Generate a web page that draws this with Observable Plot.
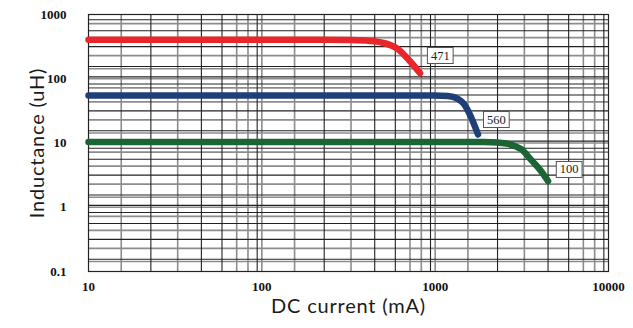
<!DOCTYPE html>
<html><head><meta charset="utf-8">
<script src="https://cdn.jsdelivr.net/npm/d3@7"></script>
<script src="https://cdn.jsdelivr.net/npm/@observablehq/plot@0.6"></script>
<style>
body{margin:0;background:#fff;}
#chart{width:633px;height:328px;overflow:hidden;}
</style></head><body><div id="chart"></div>
<script>
// Series: DC current (mA) vs inductance (uH)
const redCurrent    = [10, 200, 330, 420, 488, 608, 710, 818];
const redInductance = [405, 405, 400, 388, 368, 292, 192, 122];
const blueCurrent    = [10, 500, 990, 1184, 1352, 1476, 1578, 1687, 1766];
const blueInductance = [55, 55, 54.8, 54, 48.7, 39.7, 28.5, 18.7, 13.6];
const greenCurrent    = [10, 1000, 1900, 2300, 2640, 2900, 3140, 3590, 4100, 4480];
const greenInductance = [10.4, 10.4, 10.35, 10.15, 9.7, 8.9, 8.0, 5.4, 3.6, 2.55];

const labelNames = ["471", "560", "100"];
const labelX = [1070, 2254, 5930];
const labelY = [230, 23.2, 3.87];

const xTicks = [10, 100, 1000, 10000];
const yTicks = [0.1, 1, 10, 100, 1000];

// grid multipliers within a decade
const xGridBlackMult = [2.29, 4.48, 5.89, 9.4];
const xGridGrayMult  = [1.545, 3.27, 7.16, 8.32, 10];
const yGridBlackMult = [1.55, 3.16, 5.6, 8.3, 10.7];
const yGridGrayMult  = [1.43, 2.29, 4.37, 7.2, 10];
const xDecades = [10, 100, 1000];
const yDecades = [0.1, 1, 10, 100];

const colors = {red: "#e8262b", blue: "#1f3f78", green: "#1b6535"};

const mk = (xs, ys) => xs.map((x, i) => ({current: x, inductance: ys[i]}));
const red = mk(redCurrent, redInductance);
const blue = mk(blueCurrent, blueInductance);
const green = mk(greenCurrent, greenInductance);
const labels = labelNames.map((t, i) => ({text: t, x: labelX[i], y: labelY[i]}));

const expand = (decs, mults, lo, hi) => decs.flatMap(d => mults.map(m => +(d * m).toPrecision(6))).filter(v => v > lo && v < hi);
const xBlack = expand(xDecades, xGridBlackMult, 10, 10000);
const xGray = expand(xDecades, xGridGrayMult, 10, 10000);
const yBlack = expand(yDecades, yGridBlackMult, 0.1, 1000);
const yGray = expand(yDecades, yGridGrayMult, 0.1, 1000);

const lineOpts = c => ({x: "current", y: "inductance", stroke: c, strokeWidth: 6.5, strokeLinecap: "round", strokeLinejoin: "round", curve: "monotone-x"});

const plot = Plot.plot({
  width: 633, height: 328,
  marginLeft: 88, marginRight: 25, marginTop: 14, marginBottom: 57,
  style: {background: "#fff", fontFamily: "Liberation Serif", overflow: "visible"},
  x: {type: "log", domain: [10, 10000]},
  y: {type: "log", domain: [0.1, 1000]},
  marks: [
    Plot.ruleX(xGray, {stroke: "#8c8c8c", strokeWidth: 1.6}),
    Plot.ruleY(yGray, {stroke: "#8c8c8c", strokeWidth: 1.6}),
    Plot.ruleX(xBlack, {stroke: "#222", strokeWidth: 1.1}),
    Plot.ruleY(yBlack, {stroke: "#222", strokeWidth: 1.1}),
    Plot.frame({stroke: "#222", strokeWidth: 1.2}),
    Plot.line(red, lineOpts(colors.red)),
    Plot.line(blue, lineOpts(colors.blue)),
    Plot.line(green, lineOpts(colors.green)),
    Plot.text(labels, {x: "x", y: "y", text: "text", fontFamily: "Liberation Serif", fontSize: 12.5, fill: "#222", ariaLabel: "curve label"}),
    Plot.axisX(xTicks, {tickSize: 0, tickPadding: 10, tickFormat: d => String(d), fontSize: 13, fontWeight: "bold", fill: "#111", label: null}),
    Plot.axisY(yTicks, {tickSize: 0, tickPadding: 22, tickFormat: d => String(d), fontSize: 13, fontWeight: "bold", fill: "#111", label: null}),
    Plot.text(["DC current (mA)"], {frameAnchor: "bottom", dy: 41, textAnchor: "middle", fontSize: 20, fontFamily: "Lato", fill: "#1a1a1a"}),
    Plot.text(["Inductance (uH)"], {frameAnchor: "left", dx: -51, textAnchor: "middle", rotate: -90, fontSize: 20, fontFamily: "Lato", fill: "#1a1a1a"})
  ]
});
document.getElementById("chart").appendChild(plot);

// slight letter spacing on axis titles to match the wider reference face
d3.select(plot).selectAll("text").each(function() {
  if (this.textContent === "DC current (mA)" || this.textContent === "Inductance (uH)") {
    this.setAttribute("letter-spacing", "0.8");
  }
});

// boxes around curve labels (not around axis tick labels)
d3.select(plot).selectAll("text").each(function() {
  if (!labelNames.includes(this.textContent)) return;
  if (this.closest("[aria-label*='axis']") || this.closest("[aria-label*='tick']")) return;
  const b = this.getBBox();
  const padX = 3.5, padY = 1;
  const r = document.createElementNS("http://www.w3.org/2000/svg", "rect");
  r.setAttribute("x", b.x - padX);
  r.setAttribute("y", b.y - padY);
  r.setAttribute("width", b.width + 2 * padX);
  r.setAttribute("height", b.height + 2 * padY);
  r.setAttribute("fill", "#fff");
  r.setAttribute("stroke", "#555");
  r.setAttribute("stroke-width", "1");
  const t = this.getAttribute("transform");
  if (t) r.setAttribute("transform", t);
  this.parentNode.insertBefore(r, this);
});
</script>
</body></html>
